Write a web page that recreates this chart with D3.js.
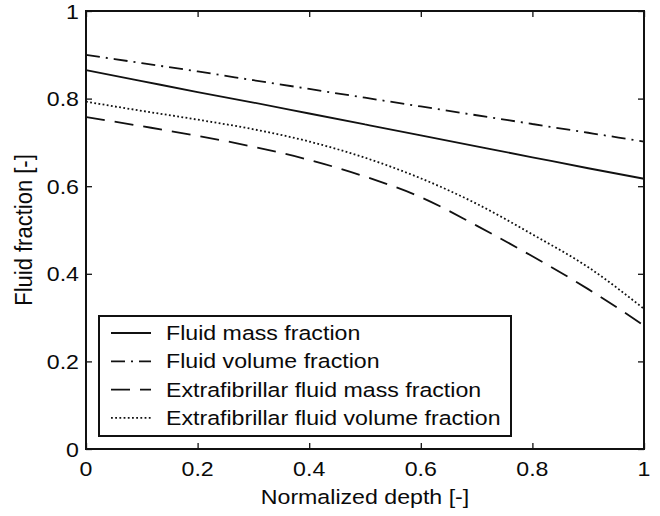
<!DOCTYPE html>
<html>
<head>
<meta charset="utf-8">
<script src="https://cdn.jsdelivr.net/npm/d3@7"></script>
<style>
  body { margin: 0; background: #fff; }
  text { font-family: "Liberation Sans", Arial, Helvetica, sans-serif; fill: #0a0a0a; }
</style>
</head>
<body>
<svg id="chart" width="660" height="516"></svg>
<script>
// normalized depth samples
var depth = [0, 0.1, 0.2, 0.3, 0.4, 0.5, 0.6, 0.7, 0.8, 0.9, 1.0];

// series
var fluidMass = [0.865, 0.840, 0.815, 0.791, 0.766, 0.741, 0.716, 0.691, 0.666, 0.641, 0.617];
var fluidVolume = [0.900, 0.881, 0.862, 0.842, 0.822, 0.802, 0.782, 0.762, 0.742, 0.722, 0.702];
var efMass = [0.758, 0.737, 0.715, 0.690, 0.660, 0.622, 0.575, 0.510, 0.440, 0.365, 0.282];
var efVolume = [0.793, 0.772, 0.752, 0.730, 0.702, 0.665, 0.618, 0.560, 0.490, 0.415, 0.320];

var seriesNames = ["Fluid mass fraction", "Fluid volume fraction",
  "Extrafibrillar fluid mass fraction", "Extrafibrillar fluid volume fraction"];

var xTicks = [0, 0.2, 0.4, 0.6, 0.8, 1];
var yTicks = [0, 0.2, 0.4, 0.6, 0.8, 1];
var xTickLabels = ["0", "0.2", "0.4", "0.6", "0.8", "1"];
var yTickLabels = ["0", "0.2", "0.4", "0.6", "0.8", "1"];

var margin = { top: 11, right: 16, bottom: 67, left: 86 };
var W = 660, H = 516;
var FS = 20.5, SX = 1.13; // the figure is a bit stretched sideways

var svg = d3.select("#chart");
var w = W - margin.left - margin.right,
    h = H - margin.top - margin.bottom;

var x = d3.scaleLinear().domain([0, 1]).range([margin.left, margin.left + w]);
var y = d3.scaleLinear().domain([0, 1]).range([margin.top + h, margin.top]);

var dashes = ["none", "14,6,2,6", "19,10", "1.8,2.4"];
var data = [fluidMass, fluidVolume, efMass, efVolume];

function label(g, px, py, s, anchor, rotated) {
  var t = rotated ? "translate(" + px + "," + py + ") rotate(-90) scale(1,1.05)"
                  : "translate(" + px + "," + py + ") scale(" + SX + ",1)";
  return g.append("text")
    .attr("transform", t)
    .attr("text-anchor", anchor)
    .style("font-size", FS + "px")
    .text(s);
}

// curves
var line = d3.line()
  .x(function(d, i) { return x(depth[i]); })
  .y(function(d) { return y(d); })
  .curve(d3.curveMonotoneX);

svg.append("g").selectAll("path")
  .data(data)
  .enter().append("path")
  .attr("d", line)
  .attr("fill", "none")
  .attr("stroke", "#111")
  .attr("stroke-width", 1.8)
  .attr("stroke-dasharray", function(d, i) { return dashes[i]; });

// axes: ticks inside on all four sides
var axes = svg.append("g");
axes.append("g")
  .attr("transform", "translate(0," + y(0) + ")")
  .call(d3.axisBottom(x).tickValues(xTicks).tickSize(-6).tickFormat(""));
axes.append("g")
  .attr("transform", "translate(0," + y(1) + ")")
  .call(d3.axisTop(x).tickValues(xTicks).tickSize(-6).tickFormat(""));
axes.append("g")
  .attr("transform", "translate(" + x(0) + ",0)")
  .call(d3.axisLeft(y).tickValues(yTicks).tickSize(-6).tickFormat(""));
axes.append("g")
  .attr("transform", "translate(" + x(1) + ",0)")
  .call(d3.axisRight(y).tickValues(yTicks).tickSize(-6).tickFormat(""));
axes.selectAll(".domain").remove();
axes.selectAll(".tick line").attr("stroke", "#111").attr("stroke-width", 1.3);

svg.append("rect")
  .attr("x", x(0)).attr("y", y(1))
  .attr("width", x(1) - x(0)).attr("height", y(0) - y(1))
  .attr("fill", "none").attr("stroke", "#111").attr("stroke-width", 2);

// tick labels
var lab = svg.append("g");
xTicks.forEach(function(v, i) { label(lab, x(v), 476, xTickLabels[i], "middle"); });
yTicks.forEach(function(v, i) { label(lab, 79, y(v) + 7.5, yTickLabels[i], "end"); });

// axis titles
label(svg, (x(0) + x(1)) / 2, 504, "Normalized depth [-]", "middle");
label(svg, 32, (y(0) + y(1)) / 2, "Fluid fraction [-]", "middle", true)
  .style("font-size", "22px");

// legend
var lg = svg.append("g");
lg.append("rect")
  .attr("x", 99).attr("y", 316).attr("width", 412).attr("height", 120)
  .attr("fill", "#fff").attr("stroke", "#111").attr("stroke-width", 2);
seriesNames.forEach(function(name, i) {
  var by = 340 + i * 28.3;
  lg.append("line")
    .attr("x1", 111).attr("x2", 151)
    .attr("y1", by - 7).attr("y2", by - 7)
    .attr("stroke", "#111").attr("stroke-width", 1.8)
    .attr("stroke-dasharray", dashes[i]);
  label(lg, 166, by, name, "start");
});
</script>
</body>
</html>
